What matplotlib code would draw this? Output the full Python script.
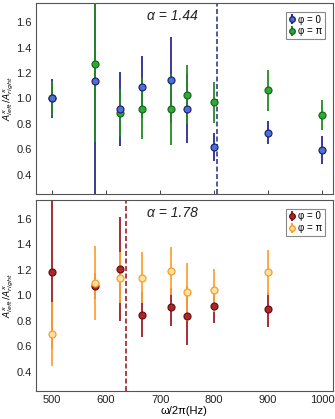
import matplotlib.pyplot as plt

plt.rcParams['font.family'] = ['Liberation Sans', 'DejaVu Sans']
plt.rcParams['mathtext.fontset'] = 'dejavusans'

freq = [500, 580, 625, 667, 720, 750, 800, 900, 1000]

# alpha = 1.44
top_phi0 = [1.00, 1.14, 0.92, 1.09, 1.145, 0.92, 0.62, 0.73, 0.595]
top_phi0_err = [0.15, 1.00, 0.29, 0.24, 0.34, 0.27, 0.11, 0.09, 0.11]
top_phipi = [1.00, 1.27, 0.885, 0.92, 0.915, 1.03, 0.97, 1.065, 0.87]
top_phipi_err = [0.14, 0.61, 0.19, 0.24, 0.28, 0.23, 0.16, 0.16, 0.115]

# alpha = 1.78
freq_b = [500, 580, 625, 667, 720, 750, 800, 900]
bot_phi0 = [1.18, 1.075, 1.206, 0.85, 0.909, 0.84, 0.92, 0.89]
bot_phi0_err = [0.60, 0.10, 0.41, 0.18, 0.15, 0.23, 0.135, 0.135]
bot_phipi = [0.695, 1.094, 1.14, 1.14, 1.193, 1.027, 1.04, 1.18]
bot_phipi_err = [0.25, 0.29, 0.20, 0.20, 0.19, 0.23, 0.17, 0.18]

fig = plt.figure(figsize=(3.35, 4.19), dpi=100)
ax1 = fig.add_axes([0.107, 0.537, 0.887, 0.456])
ax2 = fig.add_axes([0.107, 0.067, 0.887, 0.456])


def panel(ax, x, y0, e0, y1, e1, c0, c1, label_alpha, vline, vcol, top_first):
    bar0, mfc0, mec0 = c0
    bar1, mfc1, mec1 = c1
    ax.errorbar(x, y0, yerr=e0, fmt='none', ecolor=bar0, elinewidth=1.3, zorder=2)
    ax.errorbar(x, y1, yerr=e1, fmt='none', ecolor=bar1, elinewidth=1.3, zorder=3)
    z0, z1 = (5, 4) if top_first else (4, 5)
    ax.plot(x, y0, 'o', ms=5, mfc=mfc0, mec=mec0, mew=0.9, zorder=z0)
    ax.plot(x, y1, 'o', ms=5, mfc=mfc1, mec=mec1, mew=0.9, zorder=z1)
    h0 = ax.errorbar([], [], yerr=[], fmt='o', ms=4, mfc=mfc0, mec=mec0, ecolor=bar0, label='φ = 0')
    h1 = ax.errorbar([], [], yerr=[], fmt='o', ms=4, mfc=mfc1, mec=mec1, ecolor=bar1, label='φ = π')
    ax.axvline(vline, color=vcol, ls=(0, (3, 1.5)), lw=1.2, zorder=1)
    ax.text(0.46, 0.97, label_alpha, transform=ax.transAxes, ha='center', va='top',
            fontsize=10, style='italic', color='#222222')
    leg = ax.legend(handles=[h0, h1], loc='upper right', fontsize=7, handlelength=0.6,
                    handletextpad=0.3, borderpad=0.3, labelspacing=0.2, fancybox=False,
                    edgecolor='#888888', framealpha=1, bbox_to_anchor=(0.99, 0.98))
    leg.get_frame().set_linewidth(0.8)
    ax.set_xlim(470, 1020)
    ax.set_ylim(0.25, 1.75)
    ax.set_yticks([0.4, 0.6, 0.8, 1.0, 1.2, 1.4, 1.6])
    ax.set_xticks([500, 600, 700, 800, 900, 1000])
    ax.tick_params(direction='in', length=3, labelsize=8, colors='#222222', width=0.6)
    ax.tick_params(axis='y', length=0, pad=3)
    ax.set_ylabel(r'$A^{x}_{left}\,/A^{x}_{right}$', fontsize=6.5)
    ax.yaxis.set_label_coords(-0.068, 0.5)
    for s in ax.spines.values():
        s.set_color('#555555')
        s.set_linewidth(0.8)


panel(ax1, freq, top_phi0, top_phi0_err, top_phipi, top_phipi_err,
      ('#2b2b8f', '#4a72d4', '#23237a'), ('#238a23', '#2fa83a', '#1a6b1a'),
      'α = 1.44', 806, '#3b3b8c', True)
panel(ax2, freq_b, bot_phi0, bot_phi0_err, bot_phipi, bot_phipi_err,
      ('#9b1f24', '#a8282c', '#6e1010'), ('#ffa236', '#ffe2a8', '#ff9a1f'),
      'α = 1.78', 637, '#a01e22', False)

ax1.tick_params(labelbottom=False)
ax2.set_xlabel('ω/2π(Hz)', fontsize=8, labelpad=1)
ax2.tick_params(axis='x', length=0, pad=3)

fig.savefig('out.png', dpi=100)
